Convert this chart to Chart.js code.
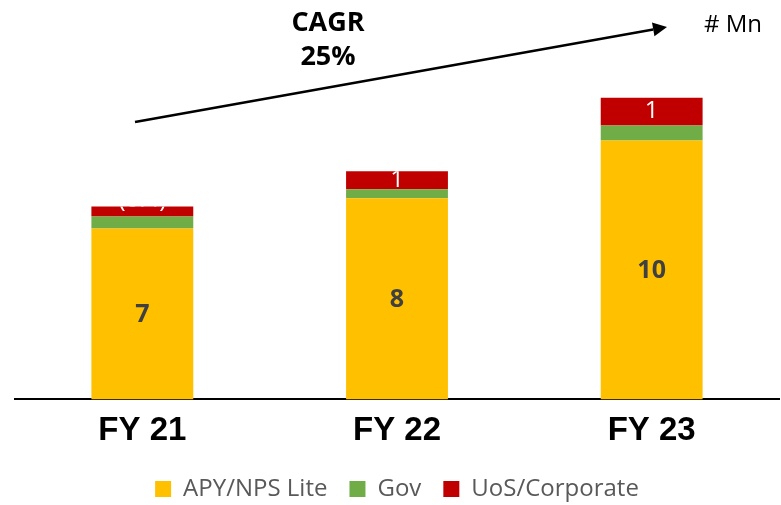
<!DOCTYPE html>
<html>
<head>
<meta charset="utf-8">
<script src="https://cdn.jsdelivr.net/npm/chart.js@4/dist/chart.umd.min.js"></script>
<style>
  html, body { margin: 0; padding: 0; background: #fff; }
  #wrap { width: 781px; height: 505px; position: relative; }
</style>
</head>
<body>
<div id="wrap"><canvas id="chart"></canvas></div>
<script>
const categories = ['FY 21', 'FY 22', 'FY 23'];
const apyValues = [6.8, 8.0, 10.3];
const govValues = [0.48, 0.36, 0.6];
const uosValues = [0.4, 0.72, 1.1];
const apyLabels = ['7', '8', '10'];
const uosLabels = ['(0.4)', '1', '1'];
const cagrText = ['CAGR', '25%'];
const unitText = '# Mn';

const labelPlugin = {
    id: 'barLabels',
    afterDatasetsDraw(chart) {
        const ctx = chart.ctx;
        ctx.save();
        ctx.textAlign = 'center';
        ctx.textBaseline = 'middle';
        // yellow segment labels
        chart.getDatasetMeta(0).data.forEach((bar, i) => {
            ctx.fillStyle = '#404040';
            ctx.font = 'bold 25px "Open Sans"';
            ctx.fillText(apyLabels[i], bar.x, (bar.y + bar.base) / 2 + 1);
        });
        // red segment labels, clipped to the bar like in the slide
        chart.getDatasetMeta(2).data.forEach((bar, i) => {
            const h = bar.base - bar.y;
            ctx.save();
            ctx.beginPath();
            ctx.rect(bar.x - bar.width / 2, bar.y, bar.width, h);
            ctx.clip();
            ctx.fillStyle = '#ffffff';
            ctx.font = '24px "Open Sans"';
            let cy = bar.y + h / 2;
            if (h < 16) cy = bar.y - 6;
            ctx.fillText(uosLabels[i], bar.x, cy);
            ctx.restore();
        });
        ctx.restore();
    }
};

const annotationPlugin = {
    id: 'cagrArrow',
    afterDraw(chart) {
        const ctx = chart.ctx;
        const x0 = 135, y0 = 122, x1 = 667, y1 = 27;
        ctx.save();
        ctx.strokeStyle = '#000';
        ctx.fillStyle = '#000';
        ctx.lineWidth = 2.5;
        const ang = Math.atan2(y1 - y0, x1 - x0);
        const hx = x1 - 14 * Math.cos(ang), hy = y1 - 14 * Math.sin(ang);
        ctx.beginPath();
        ctx.moveTo(x0, y0);
        ctx.lineTo(hx, hy);
        ctx.stroke();
        ctx.beginPath();
        ctx.moveTo(x1, y1);
        ctx.lineTo(hx + 7 * Math.sin(ang), hy - 7 * Math.cos(ang));
        ctx.lineTo(hx - 7 * Math.sin(ang), hy + 7 * Math.cos(ang));
        ctx.closePath();
        ctx.fill();

        ctx.textAlign = 'center';
        ctx.textBaseline = 'middle';
        ctx.font = 'bold 27px "Open Sans"';
        ctx.fillText(cagrText[0], 328, 23);
        ctx.fillText(cagrText[1], 328, 57);
        ctx.font = '24px "Open Sans"';
        ctx.fillText(unitText, 733, 25);
        ctx.restore();
    }
};

new Chart(document.getElementById('chart'), {
    type: 'bar',
    data: {
        labels: categories,
        datasets: [
            { label: 'APY/NPS Lite', data: apyValues, backgroundColor: '#FFC000' },
            { label: 'Gov', data: govValues, backgroundColor: '#70AD47' },
            { label: 'UoS/Corporate', data: uosValues, backgroundColor: '#C00000' }
        ]
    },
    options: {
        responsive: true,
        maintainAspectRatio: false,
        animation: false,
        layout: { padding: { left: 15, right: 2, top: 40, bottom: -6 } },
        datasets: { bar: { barPercentage: 0.4, categoryPercentage: 1 } },
        scales: {
            x: {
                stacked: true,
                grid: { display: false },
                border: { display: true, color: '#000', width: 2 },
                ticks: {
                    color: '#000',
                    font: { family: '"Liberation Sans", Arial', size: 33, weight: 'bold' },
                    padding: 4
                }
            },
            y: {
                stacked: true,
                display: false,
                min: 0,
                max: 14.3
            }
        },
        plugins: {
            legend: {
                position: 'bottom',
                labels: {
                    color: '#595959',
                    font: { family: '"Open Sans"', size: 24 },
                    boxWidth: 16,
                    boxHeight: 16,
                    padding: 22
                }
            },
            tooltip: { enabled: false }
        }
    },
    plugins: [labelPlugin, annotationPlugin]
});
</script>
</body>
</html>
